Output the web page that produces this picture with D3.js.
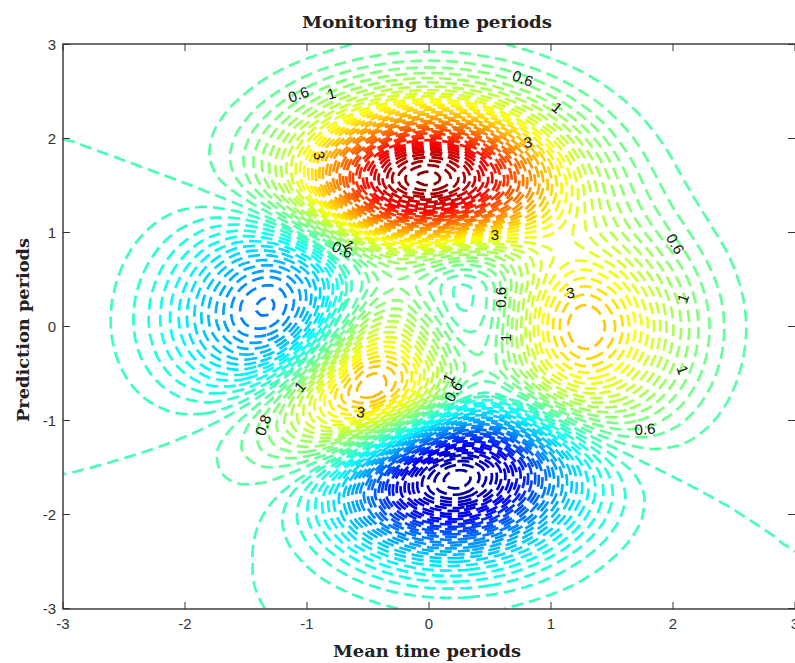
<!DOCTYPE html>
<html>
<head>
<meta charset="utf-8">
<style>
html,body{margin:0;padding:0;background:#fff;overflow:hidden}
svg{display:block}
</style>
<script src="https://cdn.jsdelivr.net/npm/d3@7"></script>
</head>
<body>
<svg id="chart" width="795" height="663"></svg>
<script>
// Surface values at grid nodes, estimated to match the contours in the picture.
// The shape closely resembles MATLAB's peaks surface, and that resemblance guided the estimates.
const xValues = [-3,-2.75,-2.5,-2.25,-2,-1.75,-1.5,-1.25,-1,-0.75,-0.5,-0.25,0,0.25,0.5,0.75,1,1.25,1.5,1.75,2,2.25,2.5,2.75,3];
const yValues = [3,2.75,2.5,2.25,2,1.75,1.5,1.25,1,0.75,0.5,0.25,0,-0.25,-0.5,-0.75,-1,-1.25,-1.5,-1.75,-2,-2.25,-2.5,-2.75,-3];
const zRows = [
[3.2e-5,1.41e-4,5.4e-4,.0018,.0053,.0137,.0312,.0624,.1099,.1707,.2335,.2817,.2999,.2817,.2336,.1711,.1107,.0633,.0320,.0143,.0057,.0020,6.1e-4,1.7e-4,4.1e-5],
[8.1e-5,3.6e-4,.00141,.0048,.0142,.0369,.0844,.1695,.2992,.4651,.6369,.7685,.8179,.7682,.6372,.4669,.3024,.1733,.0879,.0395,.0157,.0055,.0017,4.8e-4,1.2e-4],
[1.58e-4,7.5e-4,.0030,.0105,.0316,.0833,.1919,.3876,.6872,1.0704,1.4671,1.7711,1.8848,1.770,1.4683,1.0770,.6992,.4020,.2050,.0927,.0372,.0133,.0042,.0012,3.0e-4],
[2.06e-4,.00113,.0050,.0183,.0573,.1548,.3627,.7408,1.3225,2.0686,2.8407,3.4307,3.6503,3.4273,2.8444,2.0900,1.3617,.7879,.4053,.1856,.0757,.0275,.0089,.0026,6.6e-4],
[1.6e-5,8.4e-4,.0053,.0232,.0797,.2279,.5539,1.1578,2.0967,3.3060,4.5569,5.5089,5.8591,5.4989,4.5676,3.3676,2.2100,1.2939,.6771,.3170,.1329,.0498,.0167,.0050,.0013],
[-8.6e-4,-.00165,-4.4e-4,.0130,.0700,.2410,.6462,1.4288,2.6726,4.2887,5.9588,7.2185,7.6708,7.1925,5.9851,4.4448,2.9608,1.7757,.9605,.4690,.2057,.0812,.0286,.0089,.0025],
[-.00308,-.00854,-.0189,-.0293,-.0121,.1094,.4784,1.2746,2.6077,4.3744,6.1958,7.5416,7.9969,7.4807,6.2515,4.7224,3.2541,2.0539,1.1853,.6214,.2934,.1237,.0462,.0153,.0044],
[-.00728,-.0219,-.0557,-.1180,-.1972,-.2250,-.0471,.5471,1.6946,3.2877,4.9200,6.0652,6.3903,5.9371,5.0191,3.9670,2.9690,2.0890,1.3539,.7908,.4093,.1858,.0736,.0254,.0076],
[-.01367,-.0422,-.1119,-.2535,-.4807,-.7404,-.8640,-.5991,.2290,1.5070,2.7942,3.5855,3.6887,3.3404,2.9345,2.6622,2.4338,2.0844,1.5811,1.0354,.5805,.2786,.1147,.0407,.0125],
[-.0216,-.0672,-.1804,-.4165,-.8151,-1.3304,-1.7599,-1.7802,-1.1627,-.0457,1.0400,1.5519,1.4226,1.1205,1.1713,1.6492,2.1709,2.3182,1.9923,1.4019,.8205,.4045,.1695,.0609,.0188],
[-.0295,-.0917,-.2467,-.5711,-1.1230,-1.8495,-2.4927,-2.6376,-1.9965,-.7597,.3898,.7964,.4641,.0898,.3754,1.3442,2.3769,2.8339,2.5573,1.8444,1.0943,.5440,.2292,.0826,.0256],
[-.0351,-.1090,-.2923,-.6741,-1.3190,-2.1567,-2.8737,-2.9786,-2.1487,-.6467,.6823,1.0567,.5228,-.0281,.2795,1.4682,2.7624,3.3620,3.0612,2.2180,1.3194,.6568,.2770,.0999,.0309],
[-.0365,-.1128,-.3009,-.6886,-1.3327,-2.1426,-2.7741,-2.7120,-1.6518,.0638,1.4797,1.7532,.9810,.1904,.3745,1.5728,2.937,3.5825,3.2691,2.3720,1.4122,.7034,.2967,.1071,.0331],
[-.0330,-.1011,-.2668,-.6020,-1.1413,-1.7754,-2.1640,-1.8360,-.5653,1.2284,2.5614,2.6256,1.5850,.5257,.4756,1.4962,2.7557,3.3723,3.0878,2.2456,1.3388,.6674,.2816,.1016,.0314],
[-.0255,-.0772,-.1999,-.4391,-.7989,-1.1577,-1.2133,-.5962,.7975,2.4882,3.5508,3.3048,1.9975,.7001,.3896,1.1388,2.1978,2.7584,2.5592,1.8748,1.1224,.5609,.2370,.0856,.0265],
[-.0166,-.0490,-.1223,-.2545,-.4232,-.5097,-.2810,.4943,1.7835,3.0865,3.6266,2.9428,1.3963,-.0047,-.4134,.2037,1.1760,1.7865,1.7778,1.3459,.8200,.4139,.1760,.0638,.0198],
[-.0088,-.0245,-.0565,-.1032,-.1301,-.0428,.3003,.9834,1.8565,2.4539,2.2248,.9970,-.7239,-2.0151,-2.2222,-1.4251,-.2729,.5808,.8832,.7688,.4997,.2611,.1133,.0416,.0130],
[-.0033,-.0081,-.0143,-.0119,.0299,.1667,.4482,.8353,1.1075,.8826,-.1387,-1.8444,-3.6045,-4.6025,-4.3998,-3.2231,-1.7377,-.5561,.0792,.2661,.2262,.1325,.0611,.0232,.0074],
[-4.6e-4,1.9e-4,.0053,.0252,.0789,.1851,.3263,.3919,.1486,-.6798,-2.1872,-4.0752,-5.6805,-6.3258,-5.7618,-4.3157,-2.6350,-1.2710,-.4406,-.0659,.0429,.0454,.0255,.0107,.0036],
[6.1e-4,.0029,.0103,.0301,.0703,.1272,.1532,.0232,-.4611,-1.4774,-3.0032,-4.6945,-5.9714,-6.3251,-5.6370,-4.2405,-2.6861,-1.4195,-.6124,-.2044,-.0442,7.2e-4,.0063,.0037,.0014],
[7.5e-4,.0028,.0088,.0227,.0468,.0699,.0451,-.1287,-.5920,-1.4478,-2.6390,-3.8833,-4.7596,-4.9299,-4.3468,-3.2721,-2.1024,-1.1487,-.5293,-.2022,-.0616,-.0135,-.0012,6.4e-4,4.2e-4],
[5.5e-4,.0019,.0058,.0141,.0272,.0356,.0072,-.1227,-.4384,-.9948,-1.7444,-2.5058,-3.0230,-3.1000,-2.7200,-2.0482,-1.3245,-.7345,-.3477,-.1394,-.0465,-.0125,-.0025,-2.3e-4,6.6e-5],
[3.2e-4,.0011,.0032,.0077,.0147,.0188,.0028,-.0671,-.2344,-.5259,-.9148,-1.3064,-1.5690,-1.6045,-1.4062,-1.0598,-.6878,-.3841,-.1841,-.0753,-.0261,-.0075,-.0017,-2.8e-4,-1.4e-5],
[1.56e-4,5.4e-4,.0016,.0038,.0074,.0101,.0044,-.0246,-.0961,-.2222,-.3914,-.5624,-.6778,-.6945,-.6097,-.4603,-.2994,-.1678,-.0808,-.0334,-.0117,-.0034,-8.2e-4,-1.5e-4,-1.5e-5],
[6.7e-5,2.3e-4,6.8e-4,.0017,.0034,.0051,.0042,-.0050,-.0299,-.0752,-.1373,-.2010,-.2450,-.2527,-.2228,-.1687,-.1100,-.0617,-.0298,-.0123,-.0043,-.0013,-3.0e-4,-5.5e-5,-6e-6]
];
const contourLevels = [-6.4,-6.2,-6,-5.8,-5.6,-5.4,-5.2,-5,-4.8,-4.6,-4.4,-4.2,-4,-3.8,-3.6,-3.4,-3.2,-3,-2.8,-2.6,-2.4,-2.2,-2,-1.8,-1.6,-1.4,-1.2,-1,-0.8,-0.6,-0.4,-0.2,0,0.2,0.4,0.6,0.8,1,1.2,1.4,1.6,1.8,2,2.2,2.4,2.6,2.8,3,3.2,3.4,3.6,3.8,4,4.2,4.4,4.6,4.8,5,5.2,5.4,5.6,5.8,6,6.2,6.4,6.6,6.8,7,7.2,7.4,7.6,7.8,8];
const colorMin = -6.55, colorMax = 8.1;

const xTicks = [-3,-2,-1,0,1,2,3];
const yTicks = [-3,-2,-1,0,1,2,3];
const titleText = "Monitoring time periods";
const xLabelText = "Mean time periods";
const yLabelText = "Prediction periods";

// inline contour labels: text, data x, data y, rotation
const labelText  = ["0.6","1","3","0.6","1","3","3","0.6","1","0.6","1","3","1","1","0.6","0.6","0.6","1","3","1","0.8"];
const labelX     = [-1.07,-0.80,-0.90,0.77,1.05,0.81,0.54,-0.71,-0.66,0.59,0.63,1.16,2.08,2.08,2.02,1.77,0.20,0.16,-0.56,-1.06,-1.36];
const labelY     = [2.47,2.48,1.82,2.64,2.33,1.96,0.98,0.82,0.87,0.31,-0.12,0.36,0.30,-0.46,0.88,-1.09,-0.69,-0.55,-0.91,-0.64,-1.05];
const labelAngle = [-20,-15,75,20,40,-10,0,25,60,-90,-90,-10,-70,70,60,-5,-60,-60,10,-50,-70];

const jet = d3.scaleLinear()
  .domain([0,.125,.375,.625,.875,1])
  .range(["#00008f","#0000ff","#00ffff","#ffff00","#ff0000","#800000"])
  .clamp(true);
const levelColor = v => jet((v-colorMin)/(colorMax-colorMin));

const svg = d3.select("#chart");
const x = d3.scaleLinear().domain([-3,3]).range([63,795]);
const y = d3.scaleLinear().domain([-3,3]).range([608.5,44.5]);

svg.append("defs").append("clipPath").attr("id","plot")
  .append("rect").attr("x",63).attr("y",44).attr("width",732).attr("height",565);

// Catmull-Rom resampling of the node table so the contour lines run smoothly
const factor = 6, nx = xValues.length, ny = yValues.length;
const cr = (a,b,c,d,t)=>0.5*((2*b)+(-a+c)*t+(2*a-5*b+4*c-d)*t*t+(-a+3*b-3*c+d)*t*t*t);
const at = (i,j)=>zRows[Math.max(0,Math.min(ny-1,j))][Math.max(0,Math.min(nx-1,i))];
const W = (nx-1)*factor+1, H = (ny-1)*factor+1;
const fine = new Float64Array(W*H);
for(let r=0;r<H;r++){
  const fy=r/factor, j=Math.min(ny-2,Math.floor(fy)), ty=fy-j;
  for(let c=0;c<W;c++){
    const fx=c/factor, i=Math.min(nx-2,Math.floor(fx)), tx=fx-i;
    const col=k=>cr(at(i-1,k),at(i,k),at(i+1,k),at(i+2,k),tx);
    fine[r*W+c]=cr(col(j-1),col(j),col(j+1),col(j+2),ty);
  }
}
const idxX = d3.scaleLinear().domain([0.5,W-0.5]).range([xValues[0],xValues[nx-1]]);
const idxY = d3.scaleLinear().domain([0.5,H-0.5]).range([yValues[0],yValues[ny-1]]);
const inside = p => p[0]>=0.5&&p[0]<=W-0.5&&p[1]>=0.5&&p[1]<=H-0.5;
const line = d3.line().x(p=>x(idxX(p[0]))).y(p=>y(idxY(p[1])));

function openRuns(ring){
  const n=ring.length-1;
  let start=-1;
  for(let k=0;k<n;k++){ if(!inside(ring[k])){start=k;break;} }
  if(start<0) return [ring];
  const runs=[]; let cur=[];
  for(let k=1;k<=n;k++){
    const p=ring[(start+k)%n];
    if(inside(p)) cur.push(p);
    else { if(cur.length>1) runs.push(cur); cur=[]; }
  }
  if(cur.length>1) runs.push(cur);
  return runs;
}
// The zero line runs through a nearly flat part of the surface: steady its open ends
function steady(run,reach){
  return run.map((p,k)=>{
    const r=Math.min(reach,k,run.length-1-k);
    const part=run.slice(k-r,k+r+1);
    return [d3.mean(part,q=>q[0]),d3.mean(part,q=>q[1])];
  });
}

const plot = svg.append("g").attr("clip-path","url(#plot)");
const gen = d3.contours().size([W,H]).smooth(true);
contourLevels.forEach(level=>{
  const shape = gen.contour(Array.from(fine),level);
  const d=[];
  shape.coordinates.forEach(poly=>poly.forEach(ring=>{
    const runs=openRuns(ring);
    const isOpen=runs[0]!==ring;
    runs.forEach(run=>d.push(line(level===0&&isOpen?steady(run,14):run)));
  }));
  if(d.length) plot.append("path")
    .attr("d",d.join(""))
    .attr("fill","none")
    .attr("stroke",levelColor(level))
    .attr("stroke-width",2.7)
    .attr("stroke-dasharray","12 6");
});

// axes box
const axisColor="#333";
svg.append("rect").attr("x",63).attr("y",44).attr("width",733).attr("height",565)
  .attr("fill","none").attr("stroke",axisColor).attr("stroke-width",1.4);
const tick = svg.append("g").attr("stroke",axisColor).attr("stroke-width",1);
xTicks.forEach(v=>{
  tick.append("line").attr("x1",x(v)).attr("x2",x(v)).attr("y1",609).attr("y2",602);
  tick.append("line").attr("x1",x(v)).attr("x2",x(v)).attr("y1",44).attr("y2",51);
});
yTicks.forEach(v=>{
  tick.append("line").attr("x1",63).attr("x2",70).attr("y1",y(v)).attr("y2",y(v));
  tick.append("line").attr("x1",795).attr("x2",788).attr("y1",y(v)).attr("y2",y(v));
});
const tickFont='Liberation Sans, Arial, sans-serif';
svg.append("g").selectAll("text").data(xTicks).join("text")
  .attr("x",d=>x(d)).attr("y",629).attr("text-anchor","middle")
  .attr("font-family",tickFont).attr("font-size",15).attr("fill","#333").text(d=>d);
svg.append("g").selectAll("text").data(yTicks).join("text")
  .attr("x",56).attr("y",d=>y(d)+5).attr("text-anchor","end")
  .attr("font-family",tickFont).attr("font-size",15).attr("fill","#333").text(d=>d);

// contour labels
svg.append("g").selectAll("text").data(labelText).join("text")
  .attr("transform",(d,i)=>`translate(${x(labelX[i])},${y(labelY[i])}) rotate(${labelAngle[i]})`)
  .attr("text-anchor","middle").attr("dy","0.36em")
  .attr("font-family",tickFont).attr("font-size",15).attr("fill","#111").text(d=>d);

// titles
const titleFont='DejaVu Serif, Liberation Serif, serif';
svg.append("text").attr("x",427).attr("y",28).attr("text-anchor","middle")
  .attr("font-family",titleFont).attr("font-weight","bold").attr("font-size",17)
  .attr("textLength",250).attr("lengthAdjust","spacingAndGlyphs").attr("fill","#222").text(titleText);
svg.append("text").attr("x",427).attr("y",657).attr("text-anchor","middle")
  .attr("font-family",titleFont).attr("font-weight","bold").attr("font-size",17)
  .attr("textLength",188).attr("lengthAdjust","spacingAndGlyphs").attr("fill","#222").text(xLabelText);
svg.append("text").attr("transform","translate(29,330) rotate(-90)").attr("text-anchor","middle")
  .attr("font-family",titleFont).attr("font-weight","bold").attr("font-size",17)
  .attr("textLength",184).attr("lengthAdjust","spacingAndGlyphs").attr("fill","#222").text(yLabelText);
</script>
</body>
</html>
